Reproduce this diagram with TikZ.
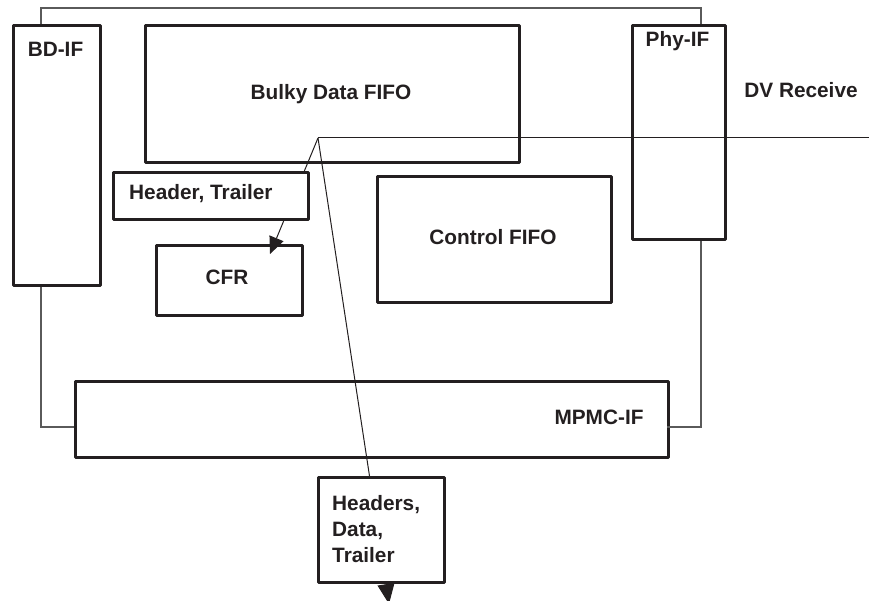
\documentclass[tikz,border=0pt]{standalone}
\usepackage{fontspec}
\setmainfont{Liberation Sans}
\usetikzlibrary{arrows.meta}
\definecolor{boxc}{HTML}{231F20}
\definecolor{framec}{HTML}{5A5A5A}
\begin{document}
\begin{tikzpicture}[x=1pt,y=-1pt,
  blk/.style={draw=boxc, line width=3pt, line join=round, inner sep=0pt, anchor=north west},
  wblk/.style={blk, fill=white},
  lbl/.style={inner sep=0pt, text=boxc, font=\fontsize{20.8}{26}\selectfont\bfseries},
  frame/.style={draw=framec, line width=1.1pt},
  conn/.style={draw=boxc, line width=1pt},
  tip/.style={-{Triangle[length=17pt,width=15pt]}},
  bigtip/.style={-{Triangle[length=20pt,width=17pt]}}]
\useasboundingbox (0,0) rectangle (869,601);
% unfilled boxes
\node[blk, minimum width=87pt, minimum height=260pt] (bd) at (12,24) {};
\node[blk, minimum width=374pt, minimum height=137pt] (bulky) at (144,24) {};
\node[blk, minimum width=93pt, minimum height=214pt] (phy) at (631,24) {};
\node[blk, minimum width=234pt, minimum height=126pt] (ctrl) at (376,175) {};
\node[blk, minimum width=146pt, minimum height=70pt] (cfr) at (155,244) {};
\node[blk, minimum width=593pt, minimum height=76pt] (mpmc) at (74,380) {};
% outer frame
\coordinate (fL) at (41,8);
\coordinate (fR) at (701,8);
\coordinate (jl) at (74,427);
\coordinate (jr) at (667,427);
\draw[frame] (bd.north -| fL) -- (fL) -- (fR) -- (phy.north -| fR);
\draw[frame] (bd.south -| fL) |- (jl);
\draw[frame] (phy.south -| fR) |- (jr);
% connectors
\coordinate (src) at (318,138);
\coordinate (dvend) at (869,138);
\coordinate (cfrtip) at (270,254);
\coordinate (outtip) at (389,604);
\draw[conn] (src) -- (dvend);
\draw[conn, tip] (src) -- (cfrtip);
\draw[conn, bigtip] (src) -- (outtip);
% filled boxes on top
\node[wblk, minimum width=195pt, minimum height=47pt] (hdr) at (112,171) {};
\node[wblk, minimum width=126pt, minimum height=105pt] (hds) at (317,476) {};
% labels
\node[lbl, anchor=base] (bdt) at (55.5,57) {BD-IF};
\node[lbl, anchor=base] (bulkyt) at (331,100) {Bulky Data FIFO};
\node[lbl, anchor=base] (phyt) at (677.5,47) {Phy-IF};
\node[lbl, anchor=base] (dvt) at (801,98) {DV Receive};
\node[lbl, anchor=base west] (hdrt) at (129,200) {Header, Trailer};
\node[lbl, anchor=base] (cfrt) at (227,285) {CFR};
\node[lbl, anchor=base] (ctrlt) at (493,245) {Control FIFO};
\node[lbl, anchor=base] (mpmct) at (599,424) {MPMC-IF};
\node[lbl, anchor=north west, align=left] (hdst) at (332,495) {Headers,\\Data,\\Trailer};
\end{tikzpicture}
\end{document}
